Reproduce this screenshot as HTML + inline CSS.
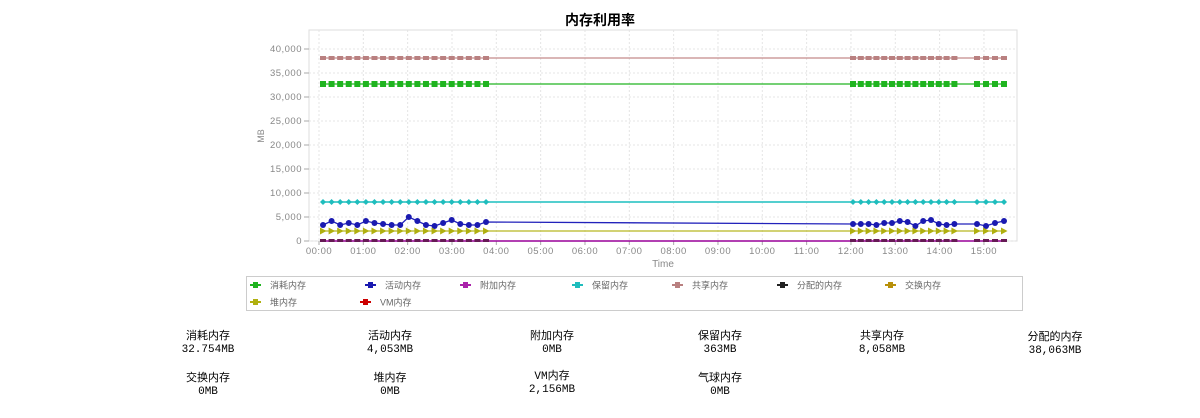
<!DOCTYPE html>
<html><head><meta charset="utf-8"><style>
body{margin:0;width:1200px;height:418px;background:#fff;overflow:hidden;font-family:"Liberation Sans","Noto Sans CJK SC",sans-serif}
.s{position:absolute;font-size:11px;color:#000;text-align:center;width:120px;line-height:13px;font-family:"Liberation Mono","Noto Sans CJK SC",monospace}
</style></head><body>
<svg id="c" width="1200" height="418" style="position:absolute;left:0;top:0" xmlns="http://www.w3.org/2000/svg">
<text x="600" y="25" text-anchor="middle" font-size="14" font-weight="bold" font-family="Liberation Sans, Noto Sans CJK SC, sans-serif">内存利用率</text>
<rect x="309" y="30" width="708" height="211" fill="none" stroke="#ddd"/>
<g id="grid"></g>
<text x="264" y="136" font-size="9" fill="#888" transform="rotate(-90 264 136)" text-anchor="middle">MB</text>
<text x="663" y="267" font-size="10" fill="#888" text-anchor="middle">Time</text>
<g id="series"></g>
<rect x="246.5" y="276.5" width="776" height="34" fill="none" stroke="#ccc"/>
<g id="leg" font-size="9" fill="#666" font-family="Liberation Sans, Noto Sans CJK SC, sans-serif"></g>
</svg>
<div class="s" style="left:148px;top:331px">消耗内存<br>32.754MB</div>
<div class="s" style="left:330px;top:331px">活动内存<br>4,053MB</div>
<div class="s" style="left:492px;top:331px">附加内存<br>0MB</div>
<div class="s" style="left:660px;top:331px">保留内存<br>363MB</div>
<div class="s" style="left:822px;top:331px">共享内存<br>8,058MB</div>
<div class="s" style="left:995px;top:332px">分配的内存<br>38,063MB</div>
<div class="s" style="left:148px;top:373px">交换内存<br>0MB</div>
<div class="s" style="left:330px;top:373px">堆内存<br>0MB</div>
<div class="s" style="left:492px;top:371px">VM内存<br>2,156MB</div>
<div class="s" style="left:660px;top:373px">气球内存<br>0MB</div>
<script>
var NS="http://www.w3.org/2000/svg";
function el(p,t,a,txt){var e=document.createElementNS(NS,t);for(var k in a)e.setAttribute(k,a[k]);if(txt!=null)e.textContent=txt;document.getElementById(p).appendChild(e);return e;}
function Y(v){return 241-v*192/40000;}
for(var i=0;i<=8;i++){var y=Y(i*5000);el('grid','line',{x1:309,x2:1017,y1:y,y2:y,stroke:'#e4e4e4','stroke-dasharray':'2,2'});
el('grid','line',{x1:304,x2:309,y1:y,y2:y,stroke:'#aaa'});
el('grid','text',{x:302,y:y+3,'font-size':9.5,fill:'#888','text-anchor':'end','letter-spacing':'0.5'},(i*5000).toLocaleString('en-US'));}
for(var h=0;h<16;h++){var x=319+h*44.33;el('grid','line',{x1:x,x2:x,y1:30,y2:241,stroke:'#e4e4e4','stroke-dasharray':'2,2'});
el('grid','line',{x1:x,x2:x,y1:241,y2:245,stroke:'#aaa'});
el('grid','text',{x:x,y:254,'font-size':9.5,fill:'#888','text-anchor':'middle','letter-spacing':'0.5'},(h<10?'0':'')+h+':00');}
var xs=[];for(var i=0;i<20;i++)xs.push(323+i*8.58);
var xs2=[];for(var i=0;i<14;i++)xs2.push(853+i*7.8);
var xs3=[977,986,995,1004];
var all=xs.concat(xs2,xs3);
var act=[225,221,225,223,225,221,223,224,225,225,217,221,225,226,223,220,224,225,225,222,
224,224,224,225,223,223,221,222,226,221,220,224,225,224, 224,226,223,221];
function line(ys,col,w){var d='';for(var i=0;i<all.length;i++)d+=(i?'L':'M')+all[i]+' '+ys[i];el('series','path',{d:d,fill:'none',stroke:col,'stroke-width':w||1.3});}
function cst(v){return all.map(function(){return v;});}
function mk(shape,col,ys){for(var i=0;i<all.length;i++){var x=all[i],y=ys[i];
if(shape=='sq')el('series','rect',{x:x-3,y:y-3,width:6,height:6,fill:col});
else if(shape=='rs')el('series','rect',{x:x-3,y:y-2,width:6,height:4,fill:col});
else if(shape=='c')el('series','circle',{cx:x,cy:y,r:3,fill:col});
else if(shape=='d')el('series','path',{d:'M'+x+' '+(y-3)+'L'+(x+3)+' '+y+'L'+x+' '+(y+3)+'L'+(x-3)+' '+y+'Z',fill:col});
else if(shape=='t')el('series','path',{d:'M'+(x-3)+' '+(y-3.5)+'L'+(x+3.5)+' '+y+'L'+(x-3)+' '+(y+3.5)+'Z',fill:col});
else if(shape=='z')el('series','rect',{x:x-3,y:y-2,width:6,height:3,fill:col});}}
var sh=cst(58),co=cst(84),re=cst(202),hp=cst(231),z=cst(241);
line(sh,'#c48a8a');mk('rs','#b98080',sh);
line(co,'#22b522');mk('sq','#1fb41f',co);
line(re,'#3cc8c8',1.8);mk('d','#1fbdbd',re);
line(act,'#2222bb');mk('c','#1a1ab0',act);
line(hp,'#b8b820');mk('t','#b0b010',hp);
line(z,'#990099',1.5);mk('z','#661a55',z);
var L=[[250,285,'#1fb41f','消耗内存'],[365,285,'#1a1ab0','活动内存'],[460,285,'#aa22aa','附加内存'],[572,285,'#1fbdbd','保留内存'],[672,285,'#b98080','共享内存'],[777,285,'#222','分配的内存'],[885,285,'#b8900a','交换内存'],[250,302,'#b0b010','堆内存'],[360,302,'#cc0000','VM内存']];
L.forEach(function(l){el('leg','line',{x1:l[0],x2:l[0]+11,y1:l[1],y2:l[1],stroke:l[2],'stroke-width':2});
el('leg','rect',{x:l[0]+3,y:l[1]-3,width:5,height:6,fill:l[2]});
el('leg','text',{x:l[0]+20,y:l[1]+3.5},l[3]);});
</script>
</body></html>
